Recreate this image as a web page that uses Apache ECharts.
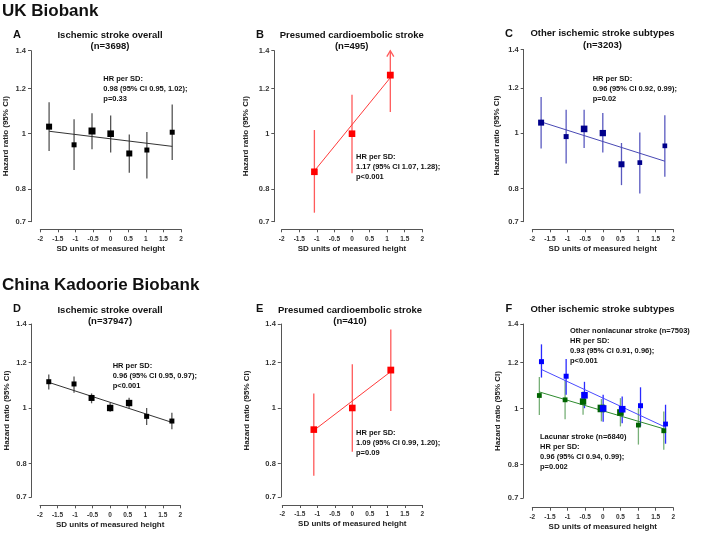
<!DOCTYPE html>
<html>
<head>
<meta charset="utf-8">
<script src="https://cdn.jsdelivr.net/npm/echarts@6/dist/echarts.min.js"></script>
<style>html,body{margin:0;padding:0;background:#fff}#c{width:701px;height:538px}</style>
</head>
<body>
<div id="c"></div>
<script>
// ---------- data ----------
const yTicks = [0.7, 0.8, 1, 1.2, 1.4];

// A: UK Biobank, ischemic stroke overall
const aX  = [-1.75, -1.04, -0.53, 0, 0.53, 1.03, 1.75];
const aHR = [1.029, 0.956, 1.011, 1.0, 0.923, 0.936, 1.006];
const aLo = [0.932, 0.863, 0.939, 0.927, 0.854, 0.834, 0.899];
const aHi = [1.136, 1.060, 1.086, 1.077, 0.997, 1.007, 1.126];
const aFitX = [-1.75, 1.75];
const aFitY = [1.010, 0.950];

// B: UK Biobank, presumed cardioembolic
const bX  = [-1.07, 0, 1.09];
const bHR = [0.857, 1.0, 1.268];
const bLo = [0.726, 0.852, 1.092];
const bHi = [1.015, 1.171, 1.47];
const bFitX = [-1.07, 1.09];
const bFitY = [0.86, 1.255];

// C: UK Biobank, other ischemic subtypes
const cX  = [-1.75, -1.04, -0.53, 0, 0.53, 1.05, 1.76];
const cHR = [1.043, 0.986, 1.017, 1.0, 0.882, 0.888, 0.950];
const cLo = [0.940, 0.885, 0.942, 0.925, 0.811, 0.784, 0.839];
const cHi = [1.156, 1.099, 1.099, 1.084, 0.961, 1.002, 1.074];
const cFitX = [-1.75, 1.76];
const cFitY = [1.046, 0.893];

// D: China Kadoorie Biobank, ischemic stroke overall
const dX  = [-1.75, -1.03, -0.53, 0, 0.54, 1.04, 1.76];
const dHR = [1.111, 1.101, 1.041, 1.0, 1.020, 0.967, 0.949];
const dLo = [1.077, 1.063, 1.019, 0.985, 0.998, 0.934, 0.918];
const dHi = [1.144, 1.134, 1.060, 1.021, 1.042, 1.000, 0.981];
const dFitX = [-1.75, 1.76];
const dFitY = [1.108, 0.944];

// E: China Kadoorie Biobank, presumed cardioembolic
const eX  = [-1.10, 0, 1.10];
const eHR = [0.917, 1.0, 1.164];
const eLo = [0.762, 0.839, 0.988];
const eHi = [1.060, 1.191, 1.370];
const eFitX = [-1.10, 1.10];
const eFitY = [0.914, 1.157];

// F: China Kadoorie Biobank, other nonlacunar (blue) and lacunar (green)
const fNlX  = [-1.74, -1.04, -0.52, 0.01, 0.55, 1.07, 1.78];
const fNlHR = [1.205, 1.137, 1.054, 1.0, 0.997, 1.011, 0.940];
const fNlLo = [1.131, 1.056, 1.001, 0.948, 0.943, 0.931, 0.869];
const fNlHi = [1.291, 1.218, 1.112, 1.056, 1.049, 1.088, 1.015];
const fNlFitX = [-1.74, 1.78];
const fNlFitY = [1.168, 0.928];

const fLaX  = [-1.80, -1.07, -0.56, -0.04, 0.50, 1.01, 1.73];
const fLaHR = [1.053, 1.035, 1.028, 1.0, 0.984, 0.936, 0.915];
const fLaLo = [0.974, 0.958, 0.975, 0.950, 0.931, 0.866, 0.848];
const fLaHi = [1.133, 1.121, 1.070, 1.038, 1.042, 1.0, 0.988];
const fLaFitX = [-1.80, 1.73];
const fLaFitY = [1.068, 0.922];

// ---------- styles (marker sizes) ----------
const aSize = [6, 5, 7, 6.6, 6, 5, 5];
const bSize = [6.6, 6.6, 6.8];
const cSize = [6, 5, 6.6, 6.3, 6, 4.7, 4.7];
const dSize = [5, 5, 6, 6.4, 6.4, 5, 5];
const eSize = [6.6, 6.6, 6.8];
const fNlSize = [5, 5, 6.6, 6.6, 6.6, 5, 4.8];
const fLaSize = [4.8, 4.8, 6.4, 7.6, 6.6, 4.8, 4.8];

const FONT = '"Liberation Sans", Arial, sans-serif';
const Y_MIN = 0.7, Y_MAX = 1.4;

const panels = [
  {grid:{left:40.3, top:50.7, width:140.7, height:171}, yOff:9.3, xOff:7.6, nameGap:21},
  {grid:{left:281.7, top:50.7, width:140.6, height:171}, yOff:7.4, xOff:7.6, nameGap:24.5},
  {grid:{left:532.3, top:49.5, width:141, height:172.2}, yOff:8.6, xOff:7.6, nameGap:22.5},
  {grid:{left:40, top:324, width:140.3, height:173}, yOff:8.3, xOff:8.3, nameGap:21},
  {grid:{left:282.3, top:324, width:140, height:173}, yOff:1.5, xOff:8, nameGap:30},
  {grid:{left:532.3, top:324, width:141, height:174}, yOff:9, xOff:9.7, nameGap:22}
];

function zip2(a, b) { return a.map((v, i) => [v, b[i]]); }
function zip3(a, b, c) { return a.map((v, i) => [v, b[i], c[i]]); }

function errRender(color) {
  return function (params, api) {
    const x = api.value(0), lo = api.value(1), hi = api.value(2);
    const clipped = hi > Y_MAX;
    const p1 = api.coord([x, lo]);
    const p2 = api.coord([x, Math.min(hi, Y_MAX)]);
    const children = [{
      type: 'line',
      shape: {x1: p1[0], y1: p1[1], x2: p2[0], y2: p2[1]},
      style: {stroke: color, lineWidth: 1.3}
    }];
    if (clipped) {
      children.push({
        type: 'polyline',
        shape: {points: [[p2[0] - 3.5, p2[1] + 6], [p2[0], p2[1]], [p2[0] + 3.5, p2[1] + 6]]},
        style: {stroke: color, fill: null, lineWidth: 1.3}
      });
    }
    return {type: 'group', children: children};
  };
}

const series = [];
function addGroup(idx, xs, hr, lo, hi, fx, fy, sizes, sqColor, barColor, lineColor) {
  series.push({
    type: 'custom', xAxisIndex: idx, yAxisIndex: idx, z: 2,
    renderItem: errRender(barColor),
    encode: {x: 0, y: [1, 2]},
    data: zip3(xs, lo, hi), silent: true
  });
  series.push({
    type: 'line', xAxisIndex: idx, yAxisIndex: idx, z: 3,
    data: zip2(fx, fy), symbol: 'none',
    lineStyle: {color: lineColor, width: 1}, silent: true
  });
  series.push({
    type: 'scatter', xAxisIndex: idx, yAxisIndex: idx, z: 4,
    data: zip2(xs, hr), symbol: 'rect',
    symbolSize: (v, p) => sizes[p.dataIndex],
    itemStyle: {color: sqColor, opacity: 1}, silent: true
  });
}

addGroup(0, aX, aHR, aLo, aHi, aFitX, aFitY, aSize, '#000000', '#555555', '#333333');
addGroup(1, bX, bHR, bLo, bHi, bFitX, bFitY, bSize, '#ff0000', '#ff5a5a', '#ff3a3a');
addGroup(2, cX, cHR, cLo, cHi, cFitX, cFitY, cSize, '#00008b', '#5a5ac0', '#4848b4');
addGroup(3, dX, dHR, dLo, dHi, dFitX, dFitY, dSize, '#000000', '#555555', '#333333');
addGroup(4, eX, eHR, eLo, eHi, eFitX, eFitY, eSize, '#ff0000', '#ff5a5a', '#ff3a3a');
addGroup(5, fLaX, fLaHR, fLaLo, fLaHi, fLaFitX, fLaFitY, fLaSize, '#006400', '#78b078', '#2e8b2e');
addGroup(5, fNlX, fNlHR, fNlLo, fNlHi, fNlFitX, fNlFitY, fNlSize, '#0000ff', '#2a2aff', '#4a4aff');

const grids = panels.map(p => Object.assign({containLabel: false}, p.grid));
const xAxes = panels.map((p, i) => ({
  type: 'value', gridIndex: i, min: -2, max: 2, interval: 0.5,
  position: 'bottom', offset: p.xOff,
  axisLine: {show: true, onZero: false, lineStyle: {color: '#555', width: 1}},
  axisTick: {show: true, length: 3, lineStyle: {color: '#555'}},
  splitLine: {show: false},
  axisLabel: {fontSize: 6.5, fontWeight: 'bold', color: '#333', margin: 6, fontFamily: FONT,
              showMinLabel: true, showMaxLabel: true},
  name: 'SD units of measured height', nameLocation: 'middle', nameGap: 15,
  nameTextStyle: {fontSize: 8, fontWeight: 'bold', color: '#222', fontFamily: FONT}
}));
const yAxes = panels.map((p, i) => ({
  type: 'log', gridIndex: i, min: Y_MIN, max: Y_MAX, logBase: 10,
  position: 'left', offset: p.yOff,
  axisLine: {show: true, onZero: false, lineStyle: {color: '#555', width: 1}},
  axisTick: {show: true, length: 3, lineStyle: {color: '#555'}, customValues: yTicks},
  splitLine: {show: false},
  axisLabel: {fontSize: 7.5, fontWeight: 'bold', color: '#333', margin: 5, fontFamily: FONT,
              customValues: yTicks, formatter: v => String(+(+v).toFixed(2))},
  name: 'Hazard ratio (95% CI)', nameLocation: 'middle', nameGap: p.nameGap,
  nameTextStyle: {fontSize: 8, fontWeight: 'bold', color: '#222', fontFamily: FONT}
}));

function txt(text, x, y, size, align, extra) {
  return Object.assign({
    type: 'text', x: x, y: y, silent: true,
    style: Object.assign({
      text: text, fill: '#111', align: align || 'left', verticalAlign: 'middle',
      font: 'bold ' + size + 'px ' + FONT
    }, extra || {})
  });
}
const ann = {lineHeight: 10, verticalAlign: 'top'};
const graphics = [
  txt('UK Biobank', 2, 11, 17, 'left'),
  txt('China Kadoorie Biobank', 2, 285, 17, 'left'),
  txt('A', 13, 35, 11, 'left'),
  txt('B', 256, 35, 11, 'left'),
  txt('C', 505, 33.5, 11, 'left'),
  txt('D', 13, 309, 11, 'left'),
  txt('E', 256, 309, 11, 'left'),
  txt('F', 505.5, 308.5, 11, 'left'),
  txt('Ischemic stroke overall\n(n=3698)', 110, 29.5, 9.5, 'center', {verticalAlign: 'top', lineHeight: 11.5}),
  txt('Presumed cardioembolic stroke\n(n=495)', 351.7, 29.5, 9.5, 'center', {verticalAlign: 'top', lineHeight: 11.5}),
  txt('Other ischemic stroke subtypes\n(n=3203)', 602.5, 27.8, 9.5, 'center', {verticalAlign: 'top', lineHeight: 11.5}),
  txt('Ischemic stroke overall\n(n=37947)', 110, 304.5, 9.5, 'center', {verticalAlign: 'top', lineHeight: 11.5}),
  txt('Presumed cardioembolic stroke\n(n=410)', 350, 304.5, 9.5, 'center', {verticalAlign: 'top', lineHeight: 11.5}),
  txt('Other ischemic stroke subtypes', 602.5, 309, 9.5, 'center'),
  txt('HR per SD:\n0.98 (95% CI 0.95, 1.02);\np=0.33', 103.3, 74, 7.5, 'left', ann),
  txt('HR per SD:\n1.17 (95% CI 1.07, 1.28);\np<0.001', 356, 151.7, 7.5, 'left', ann),
  txt('HR per SD:\n0.96 (95% CI 0.92, 0.99);\np=0.02', 592.7, 73.7, 7.5, 'left', ann),
  txt('HR per SD:\n0.96 (95% CI 0.95, 0.97);\np<0.001', 112.7, 361, 7.5, 'left', ann),
  txt('HR per SD:\n1.09 (95% CI 0.99, 1.20);\np=0.09', 356, 428.3, 7.5, 'left', ann),
  txt('Other nonlacunar stroke (n=7503)\nHR per SD:\n0.93 (95% CI 0.91, 0.96);\np<0.001', 570, 325.7, 7.5, 'left', ann),
  txt('Lacunar stroke (n=6840)\nHR per SD:\n0.96 (95% CI 0.94, 0.99);\np=0.002', 540, 431.7, 7.5, 'left', ann)
];

const chart = echarts.init(document.getElementById('c'), null, {renderer: 'canvas'});
chart.setOption({
  animation: false,
  backgroundColor: '#ffffff',
  grid: grids,
  xAxis: xAxes,
  yAxis: yAxes,
  series: series,
  graphic: {elements: graphics}
});
</script>
</body>
</html>
